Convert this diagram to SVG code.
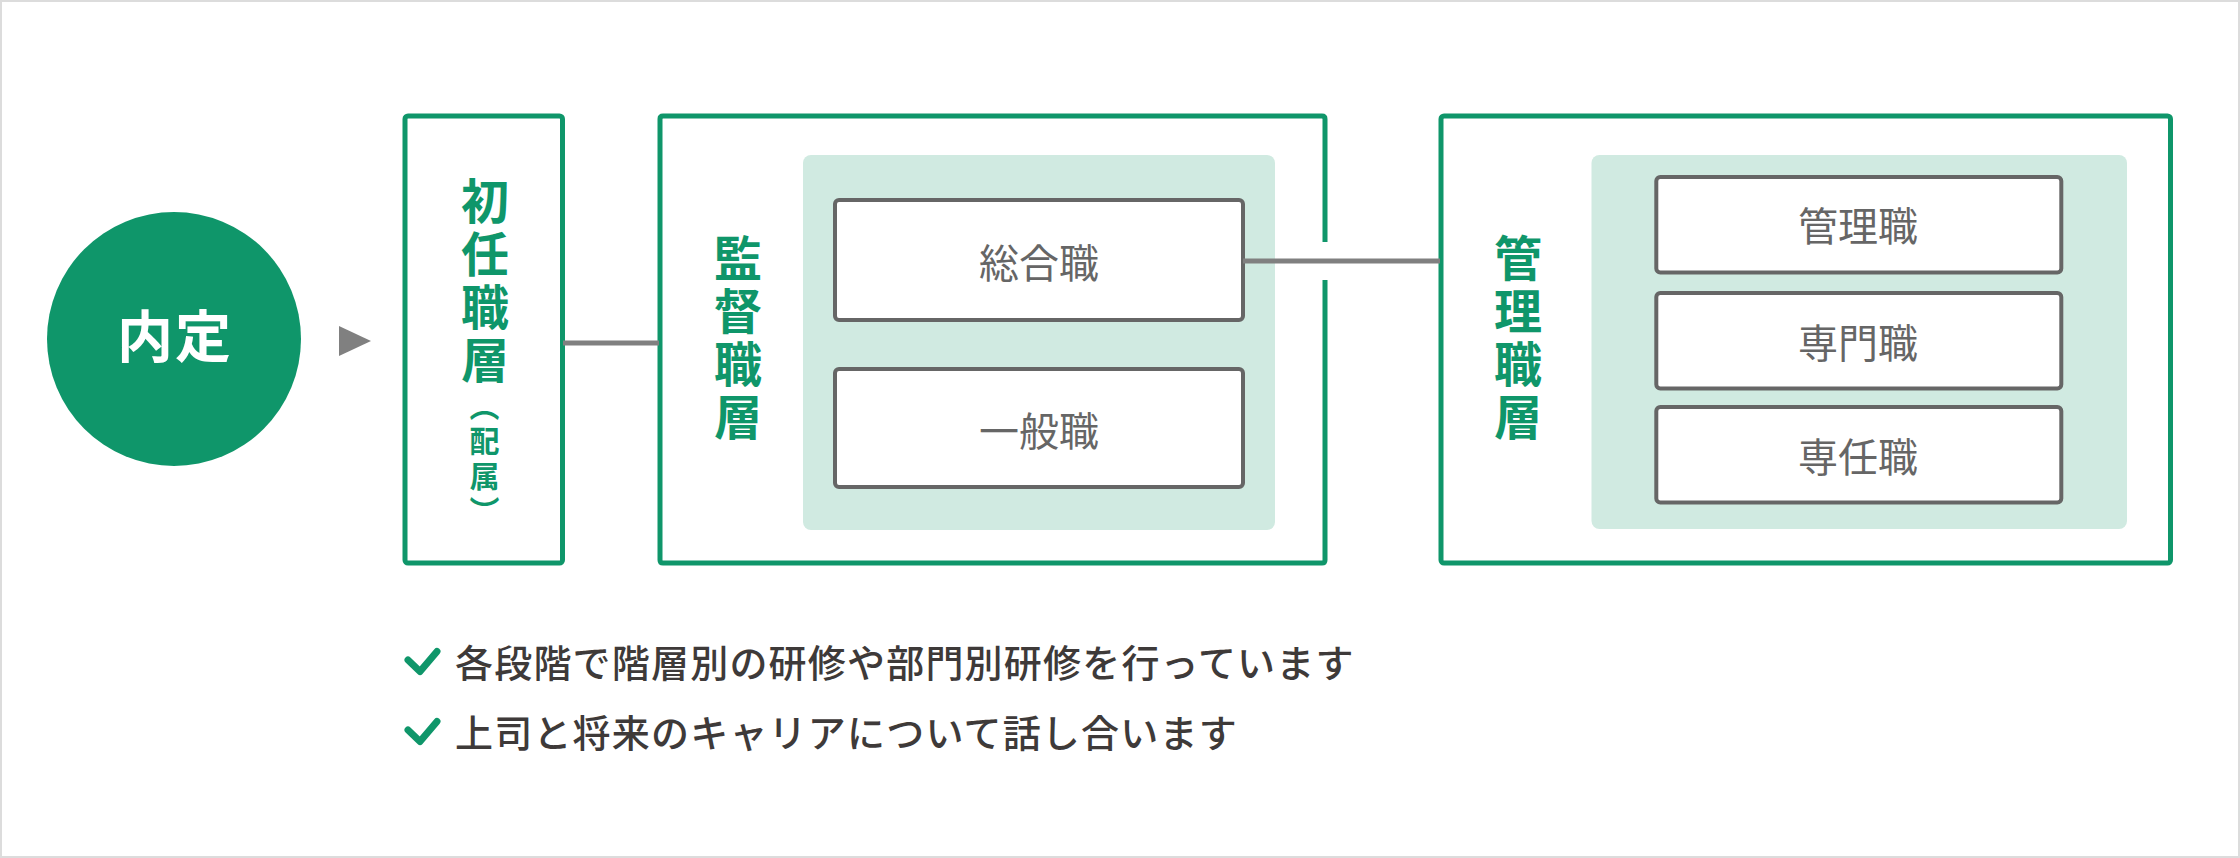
<svg xmlns="http://www.w3.org/2000/svg" width="2240" height="858" viewBox="0 0 2240 858">
<defs>
<style>
text{font-family:"Noto Sans CJK JP","Noto Sans CJK SC",sans-serif;}
.frame{fill:#ffffff;stroke:#dcdcdc;stroke-width:2;}
.gbox{fill:#ffffff;stroke:#0f966a;stroke-width:5;}
.panel{fill:#d0eae1;}
.ibox{fill:#ffffff;stroke:#666666;stroke-width:4;}
.conn{stroke:#808080;stroke-width:5;fill:none;}
.vlab{font-size:48px;font-weight:700;fill:#0f966a;writing-mode:vertical-rl;letter-spacing:5px;}
.ilab{font-size:40px;font-weight:400;fill:#666666;text-anchor:middle;dominant-baseline:central;}
.note{font-size:38px;font-weight:500;fill:#3e3a39;dominant-baseline:central;letter-spacing:1.2px;}
.check{fill:none;stroke:#0f966a;stroke-width:7;stroke-linecap:round;stroke-linejoin:round;}
</style>
</defs>
<rect class="frame" x="1" y="1" width="2238" height="856"/>

<g id="node-naitei">
<circle cx="174" cy="339" r="127" fill="#0f966a"/>
<text x="175" y="332" font-size="56" font-weight="700" fill="#ffffff" text-anchor="middle" dominant-baseline="central" letter-spacing="2">内定</text>
</g>

<g id="arrow-naitei">
<polygon points="339,326 371,341 339,356" fill="#808080"/>
</g>

<g id="node-shonin">
<rect class="gbox" x="405" y="116" width="157.5" height="447" rx="3"/>
<text class="vlab" x="485" y="176.5">初任職層</text>
<text x="484.5" y="390.5" font-size="30" font-weight="700" fill="#0f966a" writing-mode="vertical-rl" letter-spacing="5">（配属）</text>
</g>

<g id="node-kantoku">
<path class="gbox" d="M1325,280 V560 Q1325,563 1322,563 H663 Q660,563 660,560 V119 Q660,116 663,116 H1322 Q1325,116 1325,119 V242" fill="#ffffff"/>
<text class="vlab" x="738" y="234">監督職層</text>
<rect class="panel" x="803" y="155" width="472" height="375" rx="8"/>
<g id="node-sogoshoku">
<rect class="ibox" x="835" y="200" width="408" height="120" rx="4"/>
<text class="ilab" x="1039" y="261">総合職</text>
</g>
<g id="node-ippanshoku">
<rect class="ibox" x="835" y="369" width="408" height="118" rx="4"/>
<text class="ilab" x="1039" y="429">一般職</text>
</g>
</g>

<g id="node-kanri">
<rect class="gbox" x="1441" y="116" width="729.5" height="447" rx="3"/>
<text class="vlab" x="1518" y="234">管理職層</text>
<rect class="panel" x="1591.5" y="155" width="535.5" height="374" rx="8"/>
<g id="node-kanrishoku">
<rect class="ibox" x="1656.3" y="177" width="405" height="95.5" rx="4"/>
<text class="ilab" x="1858" y="224">管理職</text>
</g>
<g id="node-senmonshoku">
<rect class="ibox" x="1656.3" y="293" width="405" height="95.5" rx="4"/>
<text class="ilab" x="1858" y="341">専門職</text>
</g>
<g id="node-sennin">
<rect class="ibox" x="1656.3" y="407" width="405" height="95.5" rx="4"/>
<text class="ilab" x="1858" y="455">専任職</text>
</g>
</g>

<g id="connectors">
<line class="conn" x1="563" y1="343" x2="659" y2="343"/>
<line class="conn" x1="1243" y1="261" x2="1440" y2="261"/>
</g>

<g id="notes">
<path class="check" d="M408,660 L420,671.5 L437,651.5"/>
<text class="note" x="455" y="660">各段階で階層別の研修や部門別研修を行っています</text>
<path class="check" d="M408,730 L420,741.5 L437,721.5"/>
<text class="note" x="455" y="730">上司と将来のキャリアについて話し合います</text>
</g>
</svg>
